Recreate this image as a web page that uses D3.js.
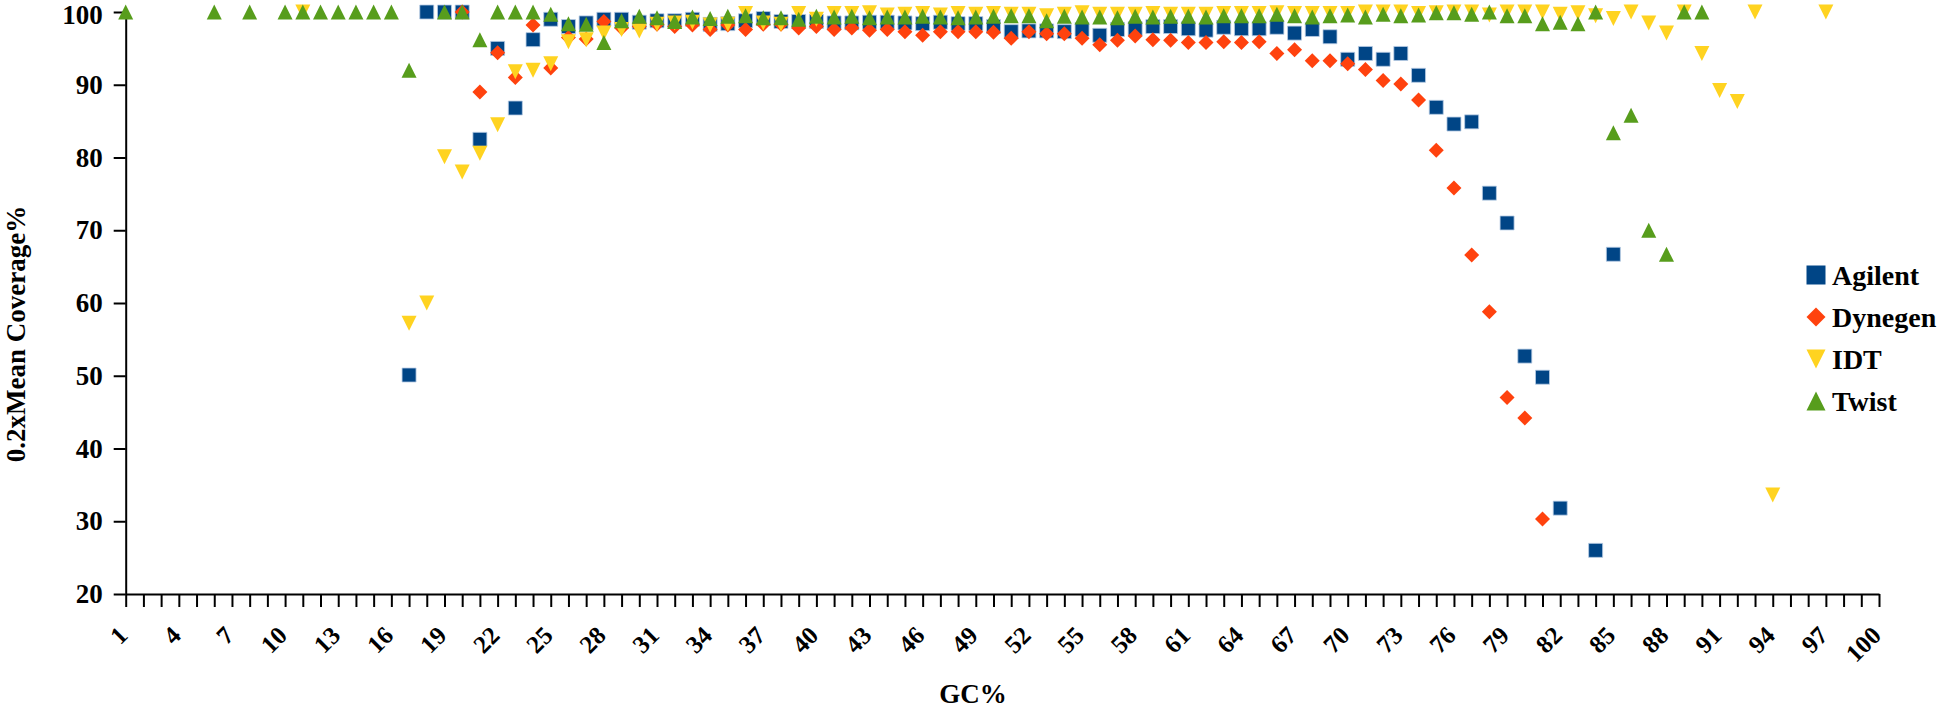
<!DOCTYPE html>
<html>
<head>
<meta charset="utf-8">
<script src="https://cdn.jsdelivr.net/npm/d3@7"></script>
<style>
  html, body { margin: 0; padding: 0; background: #ffffff; }
  svg { display: block; }
  text { font-family: "Liberation Serif", "Times New Roman", serif; font-weight: bold; fill: #000; }
</style>
</head>
<body>
<svg id="chart" width="1946" height="711"></svg>
<script>
const categories = [1,2,3,4,5,6,7,8,9,10,11,12,13,14,15,16,17,18,19,20,21,22,23,24,25,26,27,28,29,30,31,32,33,34,35,36,37,38,39,40,41,42,43,44,45,46,47,48,49,50,51,52,53,54,55,56,57,58,59,60,61,62,63,64,65,66,67,68,69,70,71,72,73,74,75,76,77,78,79,80,81,82,83,84,85,86,87,88,89,90,91,92,93,94,95,96,97,98,99,100];

const agilent = [
  null,null,null,null,null,null,null,null,null,null,null,null,null,null,null,null,
  50.1,100,100,100,82.5,95.0,86.8,96.2,99.0,
  98.0,98.5,99.0,99.0,98.6,98.8,98.8,99.0,98.3,98.4,98.8,99.1,98.7,98.7,98.7,
  98.5,98.5,98.6,98.6,98.5,98.4,98.6,98.4,98.4,
  98.0,97.3,97.4,97.4,97.3,97.6,96.8,97.6,97.7,98.0,98.0,97.7,97.5,97.9,97.7,97.7,
  97.9,97.1,97.6,96.6,93.5,94.3,93.5,94.3,91.3,
  86.9,84.6,84.9,75.1,71.0,52.7,49.8,31.8,null,26.0,66.7,
  null,null,null,null,null,null,null,null,null,null,null,null,null,null,null
];

const dynegen = [
  null,null,null,null,null,null,null,null,null,null,null,null,null,null,null,null,null,null,null,
  100,89.0,94.4,91.0,98.2,92.3,
  96.5,96.3,98.7,97.8,98.0,98.3,98.0,98.2,97.6,98.2,97.6,98.3,98.3,97.8,98.0,
  97.6,97.8,97.5,97.6,97.3,96.8,97.3,97.3,97.3,
  97.2,96.4,97.3,97.0,97.0,96.4,95.5,96.1,96.7,96.2,96.1,95.8,95.8,95.9,95.8,95.9,
  94.3,94.8,93.3,93.3,92.9,92.1,90.6,90.1,87.9,
  81.0,75.8,66.6,58.8,47.0,44.2,30.3,
  null,null,null,null,null,null,null,null,null,null,null,null,null,null,null,null,null,null,null
];

const idt = [
  null,null,null,null,null,null,null,null,null,null,
  100,null,null,null,null,null,
  57.2,60.0,80.1,78.0,80.6,84.5,91.8,92.0,92.9,
  95.9,96.2,97.1,97.6,97.4,98.3,98.5,98.6,98.2,98.3,99.8,98.5,98.3,99.8,99.0,
  99.8,99.8,99.9,99.6,99.7,99.8,99.6,99.8,99.7,
  99.8,99.7,99.7,99.5,99.7,99.9,99.7,99.7,99.7,99.8,99.7,99.7,99.7,99.8,99.8,99.8,
  99.9,99.8,99.8,99.8,99.8,100,100,100,99.8,
  99.9,100,100,99.6,100,100,100,99.7,99.9,99.5,99.1,100,98.5,97.1,100,94.3,
  89.2,87.7,100,33.6,null,null,100,null,null,null
];

const twist = [
  100,null,null,null,null,100,null,100,null,100,100,100,100,100,100,100,
  92.0,null,100,100,96.2,100,100,100,99.7,
  98.4,98.3,95.8,98.8,99.4,99.2,98.7,99.3,99.1,99.4,99.5,99.2,99.2,99.0,99.4,
  99.3,99.4,99.2,99.3,99.3,99.4,99.3,99.2,99.3,
  99.4,99.5,99.5,98.8,99.4,99.3,99.3,99.2,99.4,99.3,99.4,99.4,99.3,99.5,99.5,99.5,
  99.7,99.5,99.3,99.5,99.6,99.3,99.7,99.5,99.6,
  99.9,99.9,99.7,100,99.5,99.5,98.4,98.6,98.4,100,83.4,85.8,70.0,66.7,100,100,
  null,null,null,null,null,null,null,null,null,null
];

const seriesNames = ["Agilent", "Dynegen", "IDT", "Twist"];
const seriesValues = [agilent, dynegen, idt, twist];
const yTicks = [20, 30, 40, 50, 60, 70, 80, 90, 100];
const xTickLabels = categories.filter(c => (c - 1) % 3 === 0);
const yTitle = "0.2xMean Coverage%";
const xTitle = "GC%";

const colors = ["#004586", "#ff420e", "#ffd320", "#579d1c"];

// marker shape generators (centered on bounding box)
function shapePath(kind, s) {
  const h = s / 2;
  if (kind === 0) return `M${-h},${-h}H${h}V${h}H${-h}Z`;
  if (kind === 1) return `M0,${-h}L${h},0L0,${h}L${-h},0Z`;
  if (kind === 2) return `M${-h},${-h}L${h},${-h}L0,${h}Z`;
  return `M0,${-h}L${h},${h}L${-h},${h}Z`;
}

const svg = d3.select("#chart");
svg.append("rect").attr("width", 1946).attr("height", 711).attr("fill", "#fff");

const x = d3.scalePoint().domain(categories).range([125.7, 1879]);
const y = d3.scaleLinear().domain([20, 100]).range([594, 12]);

// Y axis
const yAxis = svg.append("g")
  .attr("transform", "translate(125.7,0)")
  .call(d3.axisLeft(y).tickValues(yTicks).tickSize(12).tickSizeOuter(0).tickPadding(11));
yAxis.select(".domain").attr("stroke", "#000").attr("stroke-width", 2);
yAxis.selectAll(".tick line").attr("stroke", "#000").attr("stroke-width", 2);
yAxis.selectAll(".tick text").style("font-size", "27px")
  .style("font-family", "'Liberation Serif', 'Times New Roman', serif").style("font-weight", "bold");
yAxis.selectAll(".tick text").filter(d => d === 100).attr("dy", "0.42em");

// X axis
const xAxis = svg.append("g")
  .attr("transform", "translate(0,594)")
  .call(d3.axisBottom(x).tickValues(categories).tickSize(13).tickSizeOuter(0)
    .tickFormat(d => xTickLabels.includes(d) ? String(d) : ""));
xAxis.select(".domain").attr("stroke", "#000").attr("stroke-width", 2);
xAxis.selectAll(".tick line").attr("stroke", "#000").attr("stroke-width", 2);
xAxis.selectAll(".tick text")
  .attr("x", 0).attr("y", 0).attr("dy", 0)
  .attr("transform", "translate(3,43) rotate(-45)")
  .style("text-anchor", "end")
  .style("font-size", "25px")
  .style("font-family", "'Liberation Serif', 'Times New Roman', serif").style("font-weight", "bold");

// Axis titles
svg.append("text")
  .attr("transform", "translate(25,334) rotate(-90)")
  .attr("text-anchor", "middle")
  .style("font-size", "27px")
  .text(yTitle);

svg.append("text")
  .attr("x", 973).attr("y", 703)
  .attr("text-anchor", "middle")
  .style("font-size", "27px")
  .text(xTitle);

// Data markers
seriesValues.forEach((vals, si) => {
  const pts = categories.map((c, i) => ({ c, v: vals[i] })).filter(d => d.v !== null);
  svg.append("g").attr("class", "series-" + seriesNames[si])
    .selectAll("path").data(pts).enter().append("path")
    .attr("transform", d => `translate(${x(d.c)},${y(d.v)})`)
    .attr("d", shapePath(si, si === 0 ? 14 : 15))
    .attr("fill", colors[si])
    .attr("stroke", si === 0 ? "#b9cde4" : "none")
    .attr("stroke-width", 0.8);
});

// Legend
const legendY = [275, 317, 359, 401];
const legend = svg.append("g");
seriesNames.forEach((name, i) => {
  const g = legend.append("g").attr("transform", `translate(1816,${legendY[i]})`);
  g.append("path").attr("d", shapePath(i, 19)).attr("fill", colors[i]);
  g.append("text").attr("x", 16).attr("y", 10).style("font-size", "28px").text(name);
});
</script>
</body>
</html>
